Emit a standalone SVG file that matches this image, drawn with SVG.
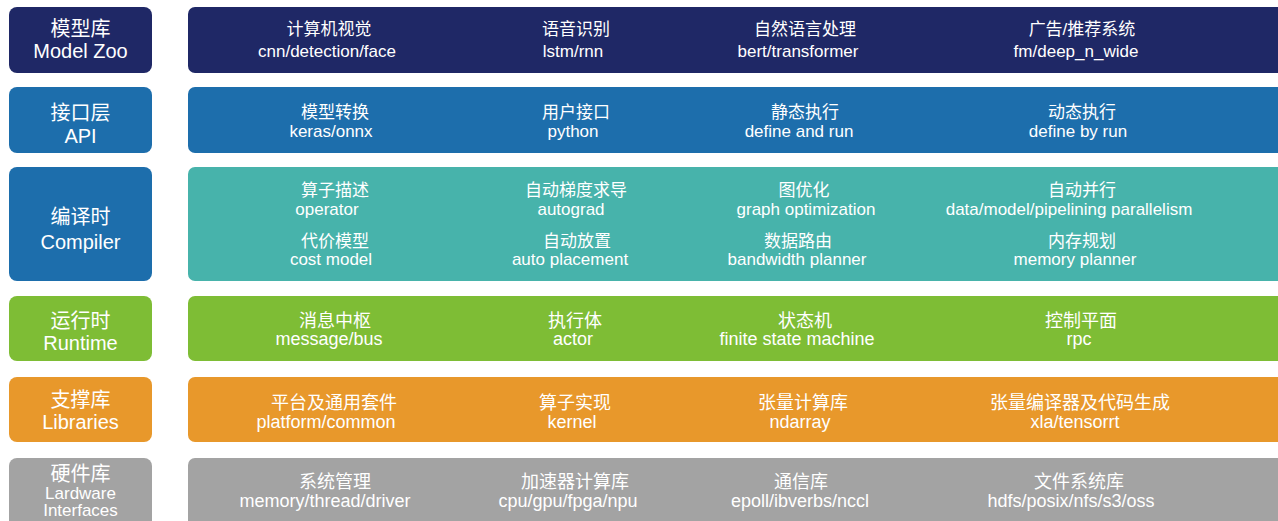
<svg xmlns="http://www.w3.org/2000/svg" width="1278" height="521" viewBox="0 0 1278 521">
<style>
text{font-family:"Liberation Sans","Noto Sans CJK SC",Arial,sans-serif;fill:#ffffff;text-anchor:middle}
.l{font-size:20px}
.s{font-size:18px}
.h{font-size:17px}
.m{font-size:17px}
.b{font-size:18px}
.navy{fill:#1f2866}
.blue{fill:#1d6eac}
.teal{fill:#47b3ab}
.green{fill:#7ebd35}
.orange{fill:#e8982b}
.gray{fill:#a3a3a3}
</style>
<rect x="0" y="0" width="1278" height="521" fill="#ffffff"/>

<g id="modelzoo-label">
<rect class="navy" x="9" y="7" width="143" height="66" rx="8"/>
<text class="l" x="80.5" y="36">模型库</text>
<text class="l" x="80.5" y="58">Model Zoo</text>
</g>
<g id="modelzoo-bar">
<rect class="navy" x="188" y="7" width="1100" height="66" rx="7"/>
<text class="m" x="329" y="35">计算机视觉</text>
<text class="m" x="327" y="57">cnn/detection/face</text>
<text class="m" x="576" y="35">语音识别</text>
<text class="m" x="573" y="57">lstm/rnn</text>
<text class="m" x="805" y="35">自然语言处理</text>
<text class="m" x="798" y="57">bert/transformer</text>
<text class="m" x="1082" y="35">广告/推荐系统</text>
<text class="m" x="1076" y="57">fm/deep_n_wide</text>
</g>

<g id="api-label">
<rect class="blue" x="9" y="87" width="143" height="66" rx="8"/>
<text class="l" x="80.5" y="120">接口层</text>
<text class="l" x="80.5" y="143">API</text>
</g>
<g id="api-bar">
<rect class="blue" x="188" y="87" width="1100" height="66" rx="7"/>
<text class="m" x="335" y="118">模型转换</text>
<text class="m" x="331" y="137">keras/onnx</text>
<text class="m" x="576" y="118">用户接口</text>
<text class="m" x="573" y="137">python</text>
<text class="m" x="805" y="118">静态执行</text>
<text class="m" x="799" y="137">define and run</text>
<text class="m" x="1082" y="118">动态执行</text>
<text class="m" x="1078" y="137">define by run</text>
</g>

<g id="compiler-label">
<rect class="blue" x="9" y="167" width="143" height="114" rx="8"/>
<text class="l" x="80.5" y="224">编译时</text>
<text class="l" x="80.5" y="249">Compiler</text>
</g>
<g id="compiler-bar">
<rect class="teal" x="188" y="167" width="1100" height="114" rx="7"/>
<text class="m" x="335" y="196">算子描述</text>
<text class="m" x="327" y="215">operator</text>
<text class="m" x="576" y="196">自动梯度求导</text>
<text class="m" x="571" y="215">autograd</text>
<text class="m" x="804" y="196">图优化</text>
<text class="m" x="806" y="215">graph optimization</text>
<text class="m" x="1082" y="196">自动并行</text>
<text class="m" x="1069" y="215">data/model/pipelining parallelism</text>
<text class="m" x="335" y="247">代价模型</text>
<text class="m" x="331" y="265">cost model</text>
<text class="m" x="577" y="247">自动放置</text>
<text class="m" x="570" y="265">auto placement</text>
<text class="m" x="798" y="247">数据路由</text>
<text class="m" x="797" y="265">bandwidth planner</text>
<text class="m" x="1082" y="247">内存规划</text>
<text class="m" x="1075" y="265">memory planner</text>
</g>

<g id="runtime-label">
<rect class="green" x="9" y="296" width="143" height="65" rx="8"/>
<text class="l" x="80.5" y="328">运行时</text>
<text class="l" x="80.5" y="350">Runtime</text>
</g>
<g id="runtime-bar">
<rect class="green" x="188" y="296" width="1100" height="65" rx="7"/>
<text class="s" x="335" y="327">消息中枢</text>
<text class="s" x="329" y="345">message/bus</text>
<text class="s" x="575" y="327">执行体</text>
<text class="s" x="573" y="345">actor</text>
<text class="s" x="805" y="327">状态机</text>
<text class="s" x="797" y="345">finite state machine</text>
<text class="s" x="1081" y="327">控制平面</text>
<text class="s" x="1079" y="345">rpc</text>
</g>

<g id="libraries-label">
<rect class="orange" x="9" y="377" width="143" height="65" rx="8"/>
<text class="l" x="80.5" y="407">支撑库</text>
<text class="l" x="80.5" y="429">Libraries</text>
</g>
<g id="libraries-bar">
<rect class="orange" x="188" y="377" width="1100" height="65" rx="7"/>
<text class="b" x="334" y="409">平台及通用套件</text>
<text class="b" x="326" y="428">platform/common</text>
<text class="b" x="575" y="409">算子实现</text>
<text class="b" x="572" y="428">kernel</text>
<text class="b" x="803" y="409">张量计算库</text>
<text class="b" x="800" y="428">ndarray</text>
<text class="b" x="1080" y="409">张量编译器及代码生成</text>
<text class="b" x="1075" y="428">xla/tensorrt</text>
</g>

<g id="hardware-label">
<rect class="gray" x="9" y="458" width="143" height="75" rx="8"/>
<text class="l" x="80.5" y="481">硬件库</text>
<text class="h" x="80.5" y="499">Lardware</text>
<text class="h" x="80.5" y="516">Interfaces</text>
</g>
<g id="hardware-bar">
<rect class="gray" x="188" y="458" width="1100" height="75" rx="7"/>
<text class="b" x="335" y="488">系统管理</text>
<text class="b" x="325" y="507">memory/thread/driver</text>
<text class="b" x="575" y="488">加速器计算库</text>
<text class="b" x="568" y="507">cpu/gpu/fpga/npu</text>
<text class="b" x="801" y="488">通信库</text>
<text class="b" x="800" y="507">epoll/ibverbs/nccl</text>
<text class="b" x="1079" y="488">文件系统库</text>
<text class="b" x="1071" y="507">hdfs/posix/nfs/s3/oss</text>
</g>

<g id="connectors"></g>
</svg>
